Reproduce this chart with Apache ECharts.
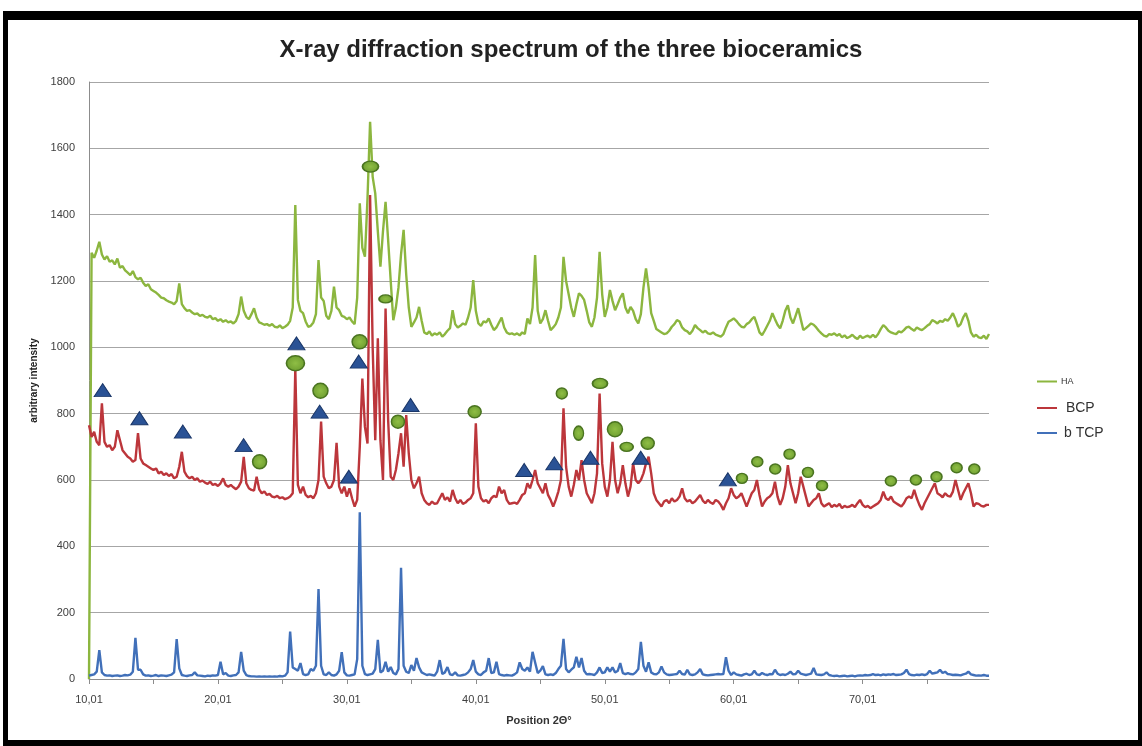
<!DOCTYPE html>
<html>
<head>
<meta charset="utf-8">
<title>X-ray diffraction spectrum of the three bioceramics</title>
<script src="https://cdn.jsdelivr.net/npm/echarts@6/dist/echarts.min.js"></script>
<style>
  html, body { margin: 0; padding: 0; background: #ffffff; }
  #chart { width: 1142px; height: 746px; }
</style>
</head>
<body>
<div id="chart"></div>
<script>
// Scan grid: 2θ from 10.01° in steps of 0.2° (350 points per pattern)
const THETA_START = 10.01;
const THETA_STEP = 0.2;

// Intensities, five readings per degree (x.01, x.21, x.41, x.61, x.81)
const HA = [
  0, 1285, 1270, 1292, 1318,      1280, 1265, 1275, 1258, 1262,
  1250, 1268, 1240, 1245, 1232,   1225, 1218, 1230, 1212, 1205,
  1210, 1195, 1185, 1190, 1175,   1170, 1165, 1158, 1150, 1148,
  1142, 1138, 1135, 1130, 1140,   1193, 1130, 1118, 1110, 1112,
  1105, 1100, 1102, 1095, 1098,   1092, 1090, 1095, 1085, 1088,
  1080, 1085, 1077, 1082, 1075,   1078, 1072, 1080, 1100, 1153,
  1110, 1092, 1085, 1100, 1118,   1090, 1075, 1072, 1068, 1070,
  1065, 1070, 1062, 1060, 1066,   1058, 1062, 1068, 1080, 1120,
  1429, 1143, 1110, 1103, 1078,   1062, 1065, 1075, 1100, 1263,
  1150, 1140, 1095, 1085, 1110,   1183, 1120, 1112, 1095, 1092,
  1085, 1090, 1078, 1070, 1150,   1434, 1300, 1273, 1450, 1680,
  1514, 1464, 1350, 1243, 1350,   1439, 1323, 1200, 1082, 1120,
  1180, 1280, 1354, 1220, 1120,   1062, 1075, 1090, 1122, 1080,
  1045, 1040, 1048, 1035, 1042,   1038, 1045, 1032, 1040, 1050,
  1058, 1112, 1070, 1060, 1065,   1072, 1068, 1090, 1120, 1203,
  1110, 1072, 1065, 1078, 1075,   1087, 1068, 1052, 1060, 1075,
  1090, 1060, 1045, 1040, 1042,   1038, 1042, 1036, 1045, 1040,
  1087, 1070, 1120, 1278, 1110,   1072, 1085, 1112, 1080, 1052,
  1060, 1070, 1090, 1120, 1273,   1200, 1160, 1120, 1092, 1130,
  1163, 1155, 1143, 1110, 1075,   1062, 1090, 1150, 1288, 1160,
  1092, 1120, 1173, 1140, 1112,   1130, 1150, 1163, 1120, 1103,
  1122, 1110, 1085, 1072, 1100,   1180, 1238, 1180, 1103, 1080,
  1055, 1050, 1045, 1040, 1042,   1050, 1062, 1070, 1082, 1078,
  1060, 1052, 1048, 1040, 1050,   1067, 1058, 1052, 1045, 1050,
  1042, 1040, 1045, 1038, 1035,   1032, 1040, 1060, 1077, 1082,
  1087, 1080, 1070, 1062, 1060,   1070, 1075, 1085, 1092, 1070,
  1045, 1037, 1050, 1065, 1080,   1103, 1085, 1068, 1057, 1080,
  1110, 1127, 1090, 1072, 1095,   1118, 1085, 1052, 1058, 1065,
  1072, 1068, 1060, 1050, 1042,   1035, 1032, 1040, 1038, 1042,
  1035, 1040, 1030, 1036, 1028,   1032, 1038, 1030, 1025, 1035,
  1028, 1032, 1035, 1030, 1038,   1030, 1040, 1055, 1067, 1060,
  1050, 1045, 1042, 1040, 1048,   1045, 1052, 1060, 1062, 1055,
  1050, 1060, 1055, 1052, 1058,   1065, 1070, 1082, 1078, 1072,
  1080, 1077, 1085, 1080, 1090,   1103, 1085, 1062, 1070, 1090,
  1103, 1080, 1045, 1032, 1038,   1030, 1028, 1035, 1025, 1040
];

const BCP = [
  765, 730, 745, 715, 705,   831, 715, 700, 705, 690,
  700, 750, 720, 690, 680,   670, 665, 655, 660, 741,
  665, 650, 645, 640, 635,   630, 635, 620, 625, 615,
  620, 612, 618, 605, 610,   640, 685, 625, 612, 605,
  610, 600, 605, 595, 598,   592, 588, 595, 585, 588,
  582, 590, 605, 585, 580,   585, 578, 572, 580, 595,
  670, 590, 575, 570, 568,   610, 572, 560, 565, 555,
  558, 550, 548, 552, 545,   548, 542, 545, 550, 560,
  935, 585, 560, 580, 555,   548, 552, 545, 560, 600,
  776, 610, 590, 575, 580,   600, 712, 580, 560, 580,
  550, 575, 545, 520, 540,   700, 906, 760, 710, 1459,
  1000, 720, 1027, 720, 600, 1117, 780, 610, 600, 630,
  680, 741, 640, 796, 680,   600, 575, 590, 610, 560,
  540, 530, 525, 535, 528,   530, 545, 560, 540, 548,
  535, 570, 545, 530, 540,   528, 532, 540, 545, 560,
  771, 580, 545, 535, 540,   530, 545, 552, 548, 580,
  560, 570, 540, 528, 530,   532, 528, 540, 555, 560,
  590, 575, 600, 630, 590,   575, 560, 590, 555, 540,
  520, 540, 565, 600, 816,   640, 580, 550, 585, 630,
  600, 660, 600, 560, 545,   530, 560, 620, 861, 650,
  580, 550, 600, 715, 600,   560, 590, 645, 590, 550,
  580, 650, 600, 590, 600,   620, 650, 670, 620, 560,
  540, 530, 520, 535, 540,   530, 545, 535, 540, 550,
  575, 545, 535, 540, 530,   535, 545, 555, 538, 530,
  540, 532, 528, 540, 535,   525, 510, 530, 545, 575,
  555, 545, 550, 560, 540,   520, 540, 560, 570, 600,
  555, 520, 535, 545, 550,   560, 595, 550, 525, 545,
  580, 645, 590, 560, 530,   560, 610, 580, 550, 520,
  530, 540, 545, 560, 530,   520, 525, 530, 518, 525,
  520, 528, 515, 522, 518,   520, 525, 518, 530, 540,
  525, 518, 522, 515, 520,   525, 530, 540, 565, 545,
  540, 550, 535, 530, 525,   520, 530, 545, 550, 545,
  570, 545, 525, 510, 530,   545, 560, 575, 590, 560,
  555, 548, 560, 552, 550,   565, 600, 570, 540, 560,
  575, 590, 560, 520, 530,   528, 522, 520, 525, 525
];

const TCP = [
  10, 12, 14, 22, 87,    20, 12, 10, 11, 9,
  10, 11, 9, 10, 12,     11, 13, 22, 124, 28,
  28, 14, 10, 11, 9,     10, 12, 9, 11, 10,
  9, 11, 13, 20, 120,    32, 12, 10, 9, 11,
  12, 20, 11, 10, 9,     8, 10, 9, 11, 10,
  12, 52, 14, 18, 10,    9, 11, 12, 20, 82,
  25, 12, 9, 8, 8,       7, 8, 7, 8, 7,
  8, 7, 8, 7, 9,         8, 10, 20, 143, 35,
  30, 25, 48, 15, 12,    14, 30, 25, 40, 271,
  40, 14, 12, 20, 12,    10, 14, 25, 81, 20,
  11, 10, 12, 14, 60,    503, 40, 15, 12, 14,
  16, 30, 118, 20, 25,   52, 22, 36, 18, 14,
  30, 335, 40, 22, 18,   42, 25, 63, 35, 20,
  16, 12, 14, 12, 10,    22, 57, 15, 20, 36,
  14, 12, 20, 11, 10,    12, 14, 20, 30, 57,
  22, 14, 12, 20, 25,    63, 18, 20, 52, 15,
  12, 10, 12, 11, 10,    14, 20, 50, 30, 25,
  35, 22, 82, 50, 18,    25, 39, 14, 12, 14,
  12, 18, 30, 40, 121,   30, 20, 28, 35, 67,
  35, 63, 25, 14, 15,    14, 12, 20, 35, 18,
  20, 35, 22, 35, 20,    24, 48, 18, 15, 18,
  15, 14, 20, 30, 112,   40, 22, 50, 20, 15,
  14, 20, 38, 20, 14,    12, 13, 14, 15, 25,
  15, 13, 28, 14, 12,    14, 20, 30, 14, 12,
  11, 12, 13, 14, 15,    14, 15, 66, 25, 12,
  20, 14, 12, 10, 14,    16, 12, 14, 25, 14,
  12, 18, 14, 12, 15,    14, 28, 16, 12, 14,
  12, 16, 22, 14, 15,    25, 16, 14, 12, 14,
  16, 33, 14, 13, 12,    14, 20, 12, 10, 9,
  10, 8, 9, 10, 8,       9, 10, 8, 10, 11,
  10, 12, 11, 12, 15,    12, 13, 11, 14, 12,
  14, 13, 15, 12, 13,    14, 18, 28, 15, 12,
  11, 13, 12, 14, 12,    15, 25, 16, 18, 20,
  28, 18, 22, 15, 14,    12, 13, 12, 11, 14,
  16, 22, 14, 12, 10,    11, 10, 12, 10, 10
];

// Phase markers above the reflections: [2θ, intensity]
const TCP_PEAKS = [
  [11.07, 871], [13.92, 786], [17.29, 746], [22.0, 705], [26.1, 1012],
  [27.9, 806], [30.16, 610], [30.93, 957], [34.95, 826], [43.76, 630],
  [46.1, 650], [48.9, 667], [52.8, 667], [59.56, 602]
];
const HA_PEAKS = [
  [23.24, 655], [26.02, 952], [27.96, 869], [31.0, 1017], [31.84, 1545],
  [33.01, 1146], [33.97, 776], [39.92, 806], [46.68, 861], [47.98, 741],
  [49.64, 891], [50.8, 753], [51.71, 700], [53.34, 711], [60.65, 605],
  [61.84, 655], [63.23, 633], [64.34, 678], [65.77, 623], [66.86, 583],
  [72.2, 597], [74.14, 600], [75.74, 610], [77.3, 637], [78.67, 633]
];

// Axis labelling
const X_LABELS = [10.01, 20.01, 30.01, 40.01, 50.01, 60.01, 70.01];
const X_TICKS = [10.01, 15.01, 20.01, 25.01, 30.01, 35.01, 40.01, 45.01, 50.01, 55.01, 60.01, 65.01, 70.01, 75.01];

// ---- drawing ----
const HA_MARK_SIZE = [
  [14, 14], [18, 15], [15, 15], [15, 14], [16, 11], [13, 8], [13, 13], [13, 12],
  [11, 11], [10, 14], [15, 10], [15, 15], [13, 9], [13, 12], [11, 10], [11, 10],
  [11, 10], [11, 10], [11, 10], [11, 10], [11, 10], [11, 10], [11, 10], [11, 10], [11, 10]
];

function toPairs(values) {
  return values.map((v, i) => [+(THETA_START + i * THETA_STEP).toFixed(2), v]);
}

const GREEN = '#8CB63F';
const RED = '#BC363B';
const BLUE = '#4170B9';
const AXIS_GREY = '#8C8C8C';
const LABEL_FONT = 'Liberation Sans, Arial, sans-serif';

const chart = echarts.init(document.getElementById('chart'), null, { renderer: 'canvas' });

const legendBase = {
  orient: 'vertical', left: 1037, padding: 0, icon: 'rect', itemWidth: 20, itemHeight: 2
};

const option = {
  animation: false,
  backgroundColor: '#ffffff',
  title: {
    text: 'X-ray diffraction spectrum of the three bioceramics',
    left: 'center',
    top: 33,
    textStyle: {
      fontFamily: 'Liberation Sans Narrow, Liberation Sans, sans-serif',
      fontWeight: 'bold',
      fontSize: 24,
      color: '#222222'
    }
  },
  grid: { left: 89, right: 153, top: 82, bottom: 67, containLabel: false },
  legend: [
    Object.assign({}, legendBase, { data: ['HA'], top: 377,
      textStyle: { fontSize: 9, color: '#333', fontFamily: LABEL_FONT, padding: [0, 0, 0, -1] } }),
    Object.assign({}, legendBase, { data: ['BCP'], top: 401,
      formatter: name => ' ' + name,
      textStyle: { fontSize: 14, color: '#333', fontFamily: LABEL_FONT } }),
    Object.assign({}, legendBase, { data: ['b TCP'], top: 426,
      textStyle: { fontSize: 14, color: '#333', fontFamily: LABEL_FONT, padding: [0, 0, 0, 2] } })
  ],
  xAxis: {
    type: 'value',
    min: THETA_START,
    max: +(THETA_START + (HA.length - 1) * THETA_STEP).toFixed(2),
    name: 'Position 2Θ°',
    nameLocation: 'middle',
    nameGap: 36,
    nameTextStyle: { fontFamily: LABEL_FONT, fontWeight: 'bold', fontSize: 11, color: '#333' },
    axisLine: { show: true, lineStyle: { color: AXIS_GREY, width: 1 } },
    axisTick: { show: true, length: 5, customValues: X_TICKS, lineStyle: { color: AXIS_GREY } },
    axisLabel: {
      customValues: X_LABELS,
      formatter: v => v.toFixed(2).replace('.', ','),
      fontFamily: LABEL_FONT, fontSize: 11, color: '#404040', margin: 15
    },
    splitLine: { show: false }
  },
  yAxis: {
    type: 'value',
    min: 0,
    max: 1800,
    interval: 200,
    name: 'arbitrary intensity',
    nameLocation: 'middle',
    nameGap: 50,
    nameTextStyle: { fontFamily: LABEL_FONT, fontWeight: 'bold', fontSize: 10, color: '#222' },
    axisLine: { show: true, lineStyle: { color: AXIS_GREY, width: 1 } },
    axisTick: { show: false },
    axisLabel: { formatter: v => String(v), fontFamily: LABEL_FONT, fontSize: 11, color: '#404040', margin: 14 },
    splitLine: { show: true, lineStyle: { color: '#A6A6A6', width: 1 } }
  },
  series: [
    { name: 'HA', type: 'line', data: toPairs(HA), showSymbol: false, color: GREEN,
      lineStyle: { color: GREEN, width: 2.4 }, z: 2 },
    { name: 'BCP', type: 'line', data: toPairs(BCP), showSymbol: false, color: RED,
      lineStyle: { color: RED, width: 2.4 }, z: 3 },
    { name: 'b TCP', type: 'line', data: toPairs(TCP), showSymbol: false, color: BLUE,
      lineStyle: { color: BLUE, width: 2.4 }, z: 3 },
    { name: 'TCP peaks', type: 'scatter', data: TCP_PEAKS, symbol: 'triangle', symbolSize: [17, 13],
      itemStyle: { color: '#2A5295', borderColor: '#1A3668', borderWidth: 1, opacity: 1 }, z: 5 },
    { name: 'HA peaks', type: 'scatter', data: HA_PEAKS, symbol: 'circle',
      symbolSize: (val, params) => HA_MARK_SIZE[params.dataIndex],
      itemStyle: {
        opacity: 1,
        color: {
          type: 'radial', x: 0.5, y: 0.5, r: 0.5,
          colorStops: [{ offset: 0, color: '#8FBE45' }, { offset: 1, color: '#6E9E30' }]
        },
        borderColor: '#4A7420', borderWidth: 1.5
      }, z: 6 }
  ],
  graphic: [
    // black frame around the figure
    { type: 'rect', shape: { x: 3, y: 11, width: 1139, height: 9 }, style: { fill: '#000' }, z: 100 },
    { type: 'rect', shape: { x: 3, y: 11, width: 5, height: 735 }, style: { fill: '#000' }, z: 100 },
    { type: 'rect', shape: { x: 3, y: 740, width: 1139, height: 6 }, style: { fill: '#000' }, z: 100 },
    { type: 'rect', shape: { x: 1138, y: 11, width: 4, height: 735 }, style: { fill: '#000' }, z: 100 }
  ]
};

chart.setOption(option);
</script>
</body>
</html>
